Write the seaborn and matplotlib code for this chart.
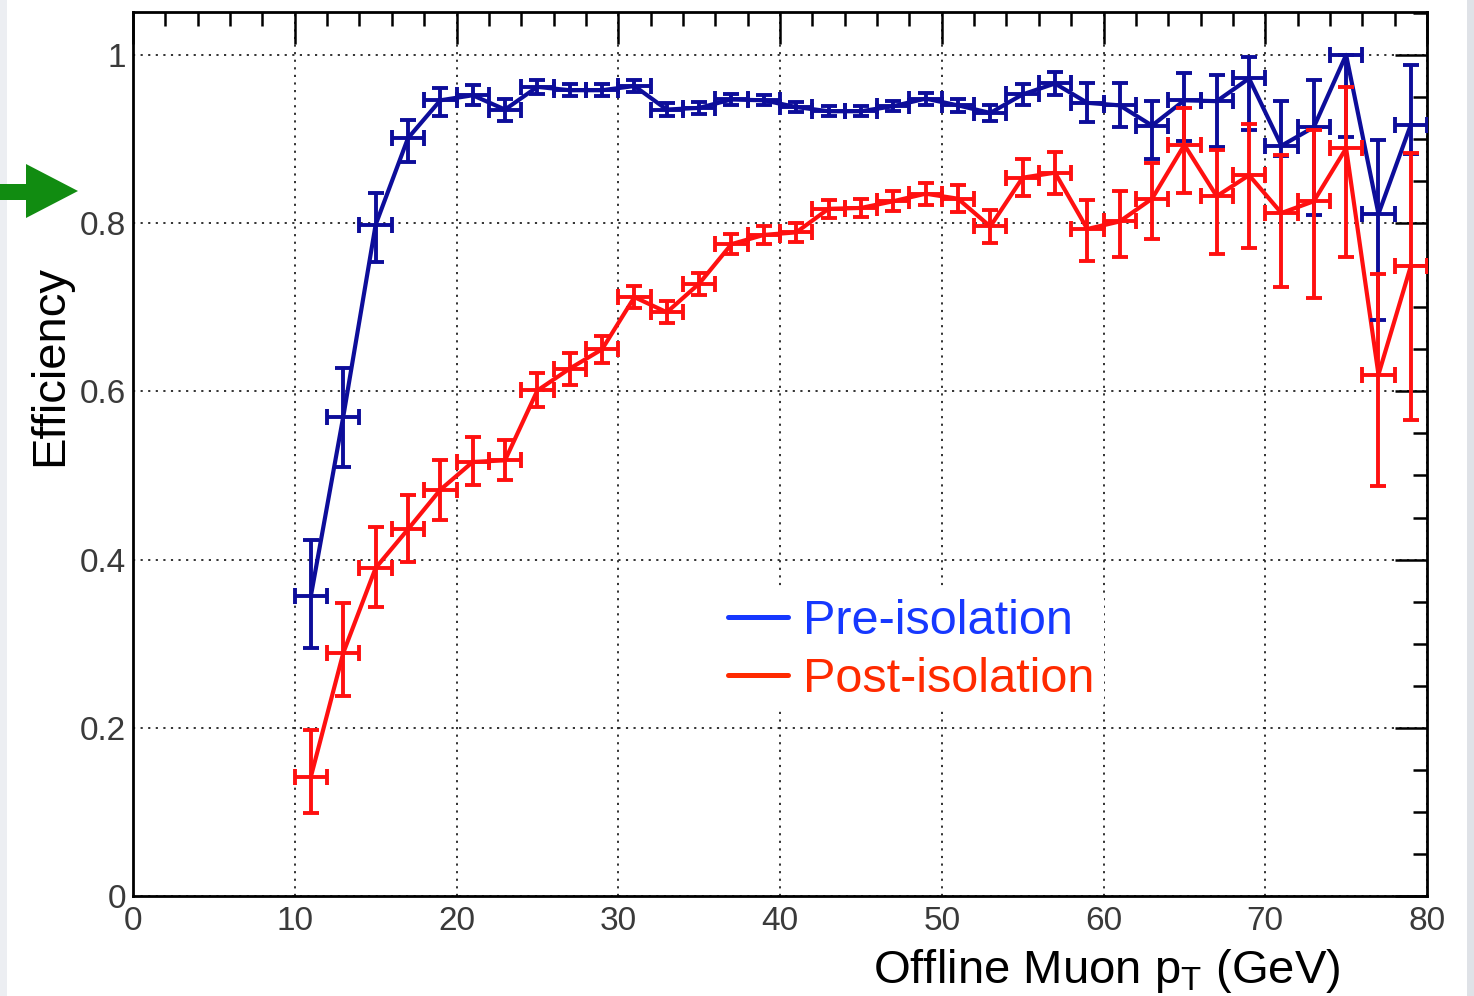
import numpy as np
import pandas as pd
import matplotlib
matplotlib.use("Agg")
import matplotlib.pyplot as plt
import seaborn as sns
from matplotlib.ticker import MultipleLocator, FuncFormatter
from matplotlib.patches import Polygon, Rectangle
from matplotlib.lines import Line2D

# ---------------- data ----------------
pt_centers = [11, 13, 15, 17, 19, 21, 23, 25, 27, 29, 31, 33, 35, 37, 39,
              41, 43, 45, 47, 49, 51, 53, 55, 57, 59, 61, 63, 65, 67, 69,
              71, 73, 75, 77, 79]
bin_half_width = 1.0

pre_eff = [0.357, 0.570, 0.798, 0.901, 0.946, 0.952, 0.935, 0.962, 0.958, 0.958,
           0.963, 0.935, 0.937, 0.947, 0.946, 0.938, 0.933, 0.933, 0.939, 0.948,
           0.940, 0.931, 0.953, 0.966, 0.943, 0.940, 0.916, 0.946, 0.945, 0.972,
           0.892, 0.914, 1.000, 0.811, 0.917]
pre_err_lo = [0.062, 0.060, 0.044, 0.028, 0.019, 0.012, 0.014, 0.008, 0.007, 0.007,
              0.007, 0.008, 0.007, 0.006, 0.006, 0.006, 0.006, 0.006, 0.006, 0.007,
              0.008, 0.010, 0.012, 0.014, 0.023, 0.026, 0.040, 0.048, 0.054, 0.061,
              0.012, 0.104, 0.098, 0.126, 0.035]
pre_err_hi = [0.066, 0.058, 0.038, 0.022, 0.015, 0.012, 0.012, 0.008, 0.007, 0.007,
              0.007, 0.008, 0.007, 0.006, 0.006, 0.006, 0.006, 0.006, 0.006, 0.007,
              0.008, 0.010, 0.012, 0.014, 0.023, 0.026, 0.029, 0.032, 0.031, 0.026,
              0.053, 0.056, 0.000, 0.088, 0.071]

post_eff = [0.142, 0.289, 0.390, 0.436, 0.483, 0.516, 0.518, 0.601, 0.627, 0.650,
            0.712, 0.694, 0.728, 0.775, 0.786, 0.789, 0.817, 0.818, 0.826, 0.835,
            0.829, 0.796, 0.854, 0.860, 0.793, 0.802, 0.829, 0.893, 0.832, 0.857,
            0.812, 0.826, 0.889, 0.620, 0.749]
post_err_lo = [0.043, 0.051, 0.046, 0.039, 0.036, 0.027, 0.023, 0.020, 0.019, 0.016,
               0.013, 0.013, 0.013, 0.012, 0.011, 0.011, 0.011, 0.011, 0.012, 0.013,
               0.016, 0.020, 0.022, 0.025, 0.038, 0.042, 0.048, 0.057, 0.069, 0.086,
               0.088, 0.115, 0.129, 0.133, 0.183]
post_err_hi = [0.055, 0.059, 0.049, 0.041, 0.035, 0.030, 0.024, 0.021, 0.019, 0.016,
               0.013, 0.013, 0.013, 0.012, 0.011, 0.011, 0.011, 0.011, 0.012, 0.013,
               0.016, 0.020, 0.022, 0.025, 0.035, 0.036, 0.043, 0.044, 0.055, 0.061,
               0.069, 0.085, 0.073, 0.119, 0.134]

series_labels = ["Pre-isolation", "Post-isolation"]
x_ticks = [0, 10, 20, 30, 40, 50, 60, 70, 80]
y_ticks = [0, 0.2, 0.4, 0.6, 0.8, 1.0]
x_title = r"Offline Muon p$_{\mathrm{T}}$ (GeV)"
y_title = "Efficiency"

# ---------------- style ----------------
sns.set_style("white")
plt.rcParams["font.family"] = ["Liberation Sans", "DejaVu Sans"]
plt.rcParams["mathtext.fontset"] = "custom"
plt.rcParams["mathtext.rm"] = "Liberation Sans"
plt.rcParams["mathtext.it"] = "Liberation Sans:italic"

W, H = 1474, 996
fig = plt.figure(figsize=(W / 100, H / 100), dpi=100)
fig.patch.set_facecolor("white")

# side strips of slide background
fig.add_artist(Rectangle((0, 0), 7 / W, 1, transform=fig.transFigure,
                         facecolor="#eceef2", edgecolor="none", zorder=0))
fig.add_artist(Rectangle((1467 / W, 0), 7 / W, 1, transform=fig.transFigure,
                         facecolor="#dfe2e7", edgecolor="none", zorder=0))

ax = fig.add_axes([133 / W, 1 - 896 / H, (1427 - 133) / W, (896 - 12) / H])
ax.set_facecolor("white")

data_blue = "#0d0d9a"
data_red = "#ff1010"
leg_blue = "#1638ff"
leg_red = "#ff2a00"

df = pd.DataFrame({
    "pt": pt_centers * 2,
    "eff": pre_eff + post_eff,
    "series": [series_labels[0]] * len(pt_centers) + [series_labels[1]] * len(pt_centers),
})

sns.lineplot(data=df, x="pt", y="eff", hue="series",
             palette={series_labels[0]: data_blue, series_labels[1]: data_red},
             estimator=None, sort=False, linewidth=3.0, legend=False, ax=ax, zorder=3)

ax.errorbar(pt_centers, pre_eff, xerr=bin_half_width, yerr=[pre_err_lo, pre_err_hi],
            fmt="none", ecolor=data_blue, elinewidth=2.8, capsize=6, capthick=2.8, zorder=3)
ax.errorbar(pt_centers, post_eff, xerr=bin_half_width, yerr=[post_err_lo, post_err_hi],
            fmt="none", ecolor=data_red, elinewidth=2.8, capsize=6, capthick=2.8, zorder=4)

ax.set_xlim(0, 80)
ax.set_ylim(0, 1.051)
ax.set_xticks(x_ticks)
ax.set_yticks(y_ticks)
ax.xaxis.set_minor_locator(MultipleLocator(2))
ax.yaxis.set_minor_locator(MultipleLocator(0.05))
ax.yaxis.set_major_formatter(FuncFormatter(lambda v, p: f"{v:g}"))
ax.xaxis.set_major_formatter(FuncFormatter(lambda v, p: f"{v:g}"))

ax.grid(True, which="major", color="#222222", linestyle=(0, (1.2, 3.0)), linewidth=1.3)
ax.set_axisbelow(True)

for s in ax.spines.values():
    s.set_color("black")
    s.set_linewidth(2.0)

ax.tick_params(which="both", direction="in", top=True, right=True,
               color="black", width=1.8, labelcolor="#3a3a3a", labelsize=24)
ax.tick_params(which="major", length=23)
ax.tick_params(which="minor", length=10)
ax.tick_params(axis="y", pad=5)
ax.tick_params(axis="x", pad=7)

ax.set_xlabel(x_title, fontsize=34, color="black", loc="right")
ax.xaxis.set_label_coords(0.933, -0.058)
ax.set_ylabel(y_title, fontsize=34, color="black")
ax.yaxis.set_label_coords(-0.047, 0.60)

handles = [Line2D([], [], color=leg_blue, lw=3.6), Line2D([], [], color=leg_red, lw=3.6)]
leg = ax.legend(handles, series_labels, loc="upper left", bbox_to_anchor=(0.452, 0.347),
                frameon=True, facecolor="white", edgecolor="none", framealpha=1,
                fontsize=35, labelcolor="linecolor", handlelength=1.25,
                handletextpad=0.3, labelspacing=0.26, borderpad=0.2, borderaxespad=0)
leg.set_zorder(5)

# green arrow at left
arrow_px = [(0, 184), (26, 184), (26, 164), (78, 191), (26, 218), (26, 200), (0, 200)]
fig.add_artist(Polygon([(x / W, 1 - y / H) for x, y in arrow_px], closed=True,
                       transform=fig.transFigure, facecolor="#118c11",
                       edgecolor="none", zorder=6))

fig.savefig("out.png", dpi=100)
